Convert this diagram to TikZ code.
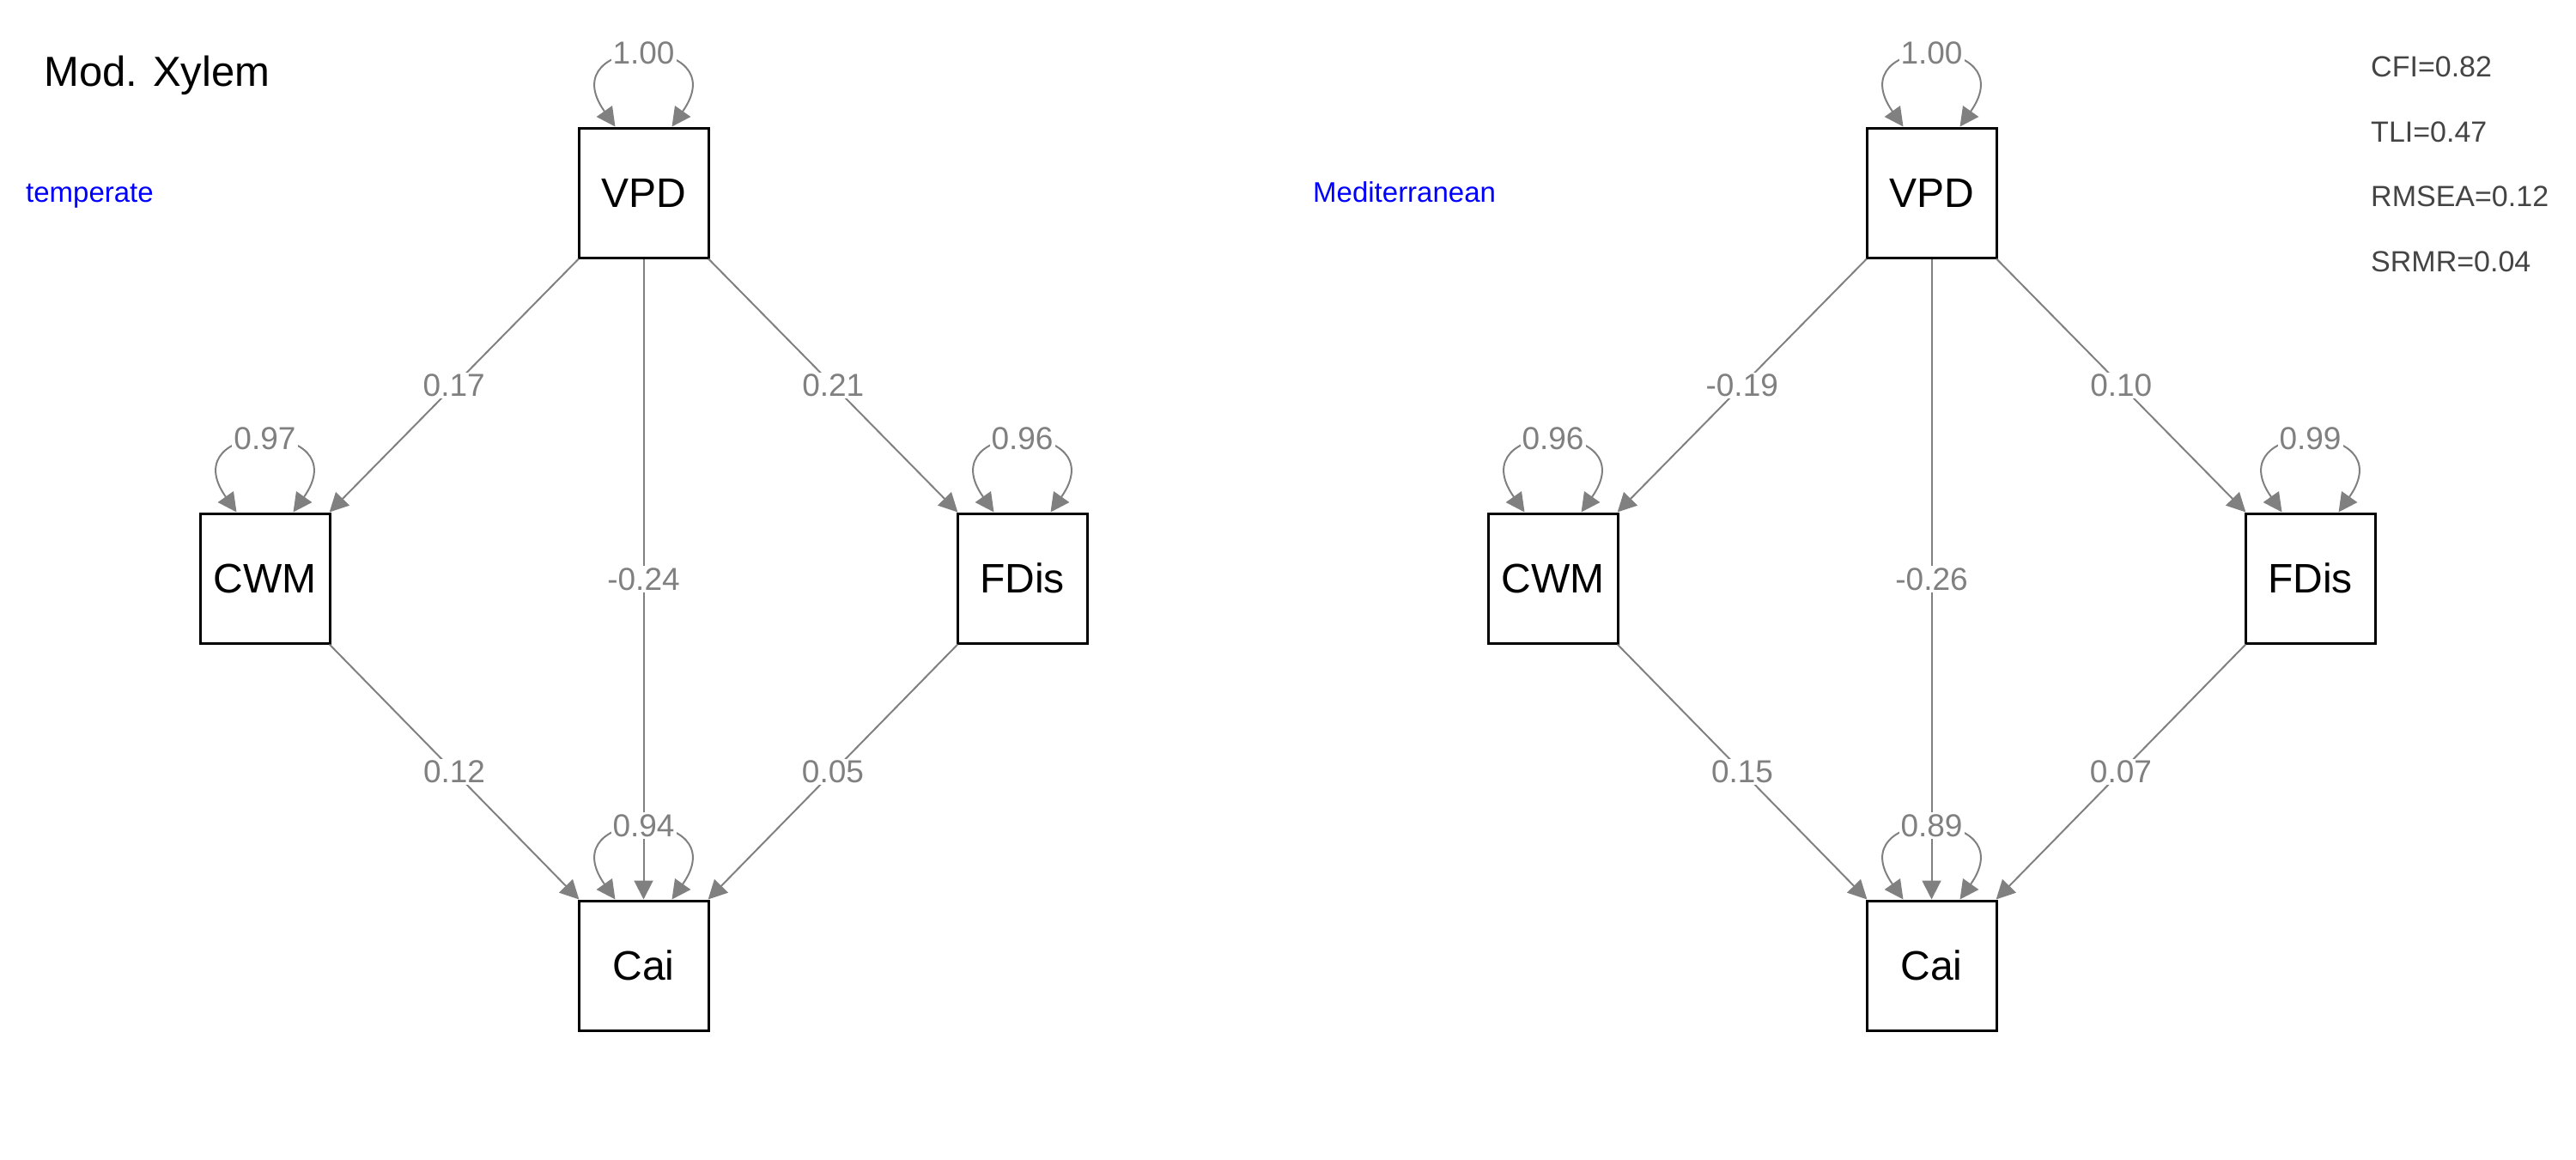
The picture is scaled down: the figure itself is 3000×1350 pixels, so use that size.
\documentclass[tikz,border=0pt]{standalone}
\usepackage{fontspec}
\setmainfont{Liberation Sans}
\usetikzlibrary{arrows.meta}
\definecolor{edgegray}{HTML}{808080}
\definecolor{fitgray}{HTML}{444444}
\newcommand{\varloop}[2]{%
  \draw[loopline] ([xshift=-33pt]#1.north) .. controls +(-77,-109) and +(77,-109) .. ([xshift=33pt]#1.north);
  \node[coef] (#1loop) at ([yshift=86pt]#1.north) {#2};%
}
\begin{document}
\begin{tikzpicture}[x=1pt,y=-1pt,
  var/.style={draw=black, line width=3pt, minimum size=151pt, inner sep=0pt,
    font=\fontsize{48}{56}\selectfont, text=black},
  edgeline/.style={draw=edgegray, line width=2pt, -{Triangle[length=22pt,width=22pt]}},
  loopline/.style={draw=edgegray, line width=2pt,
    {Triangle[length=22pt,width=22pt]}-{Triangle[length=22pt,width=22pt]}},
  coef/.style={fill=white, inner sep=2pt, text=edgegray, font=\fontsize{37}{44}\selectfont},
  grouplabel/.style={text=blue, font=\fontsize{33}{40}\selectfont, anchor=base west, inner sep=0pt},
  fitidx/.style={text=fitgray, font=\fontsize{34}{40}\selectfont, anchor=base west, inner sep=0pt}]
\useasboundingbox (0,0) rectangle (3000,1350);

% titles
\node[anchor=base west, inner sep=0pt, font=\fontsize{49}{58}\selectfont] (title) at (51,100) {Mod. Xylem};
\node[grouplabel] (gL) at (30,235) {temperate};
\node[grouplabel] (gR) at (1529,235) {Mediterranean};
\node[fitidx] (cfi) at (2761,89) {CFI=0.82};
\node[fitidx] (tli) at (2761,165) {TLI=0.47};
\node[fitidx] (rmsea) at (2761,240) {RMSEA=0.12};
\node[fitidx] (srmr) at (2761,316) {SRMR=0.04};

% left panel
\node[var] (LV) at (749.5,224.5) {VPD};
\node[var] (LC) at (308.5,673.5) {CWM};
\node[var] (LF) at (1190.5,673.5) {FDis};
\node[var] (LA) at (749.5,1124.5) {Cai};
\draw[edgeline] (LV) -- node[coef] {0.17} (LC);
\draw[edgeline] (LV) -- node[coef] {0.21} (LF);
\draw[edgeline] (LV) -- node[coef] {-0.24} (LA);
\draw[edgeline] (LC) -- node[coef] {0.12} (LA);
\draw[edgeline] (LF) -- node[coef] {0.05} (LA);
\varloop{LV}{1.00}
\varloop{LC}{0.97}
\varloop{LF}{0.96}
\varloop{LA}{0.94}

% right panel
\node[var] (RV) at (2249.5,224.5) {VPD};
\node[var] (RC) at (1808.5,673.5) {CWM};
\node[var] (RF) at (2690.5,673.5) {FDis};
\node[var] (RA) at (2249.5,1124.5) {Cai};
\draw[edgeline] (RV) -- node[coef] {-0.19} (RC);
\draw[edgeline] (RV) -- node[coef] {0.10} (RF);
\draw[edgeline] (RV) -- node[coef] {-0.26} (RA);
\draw[edgeline] (RC) -- node[coef] {0.15} (RA);
\draw[edgeline] (RF) -- node[coef] {0.07} (RA);
\varloop{RV}{1.00}
\varloop{RC}{0.96}
\varloop{RF}{0.99}
\varloop{RA}{0.89}
\end{tikzpicture}
\end{document}
